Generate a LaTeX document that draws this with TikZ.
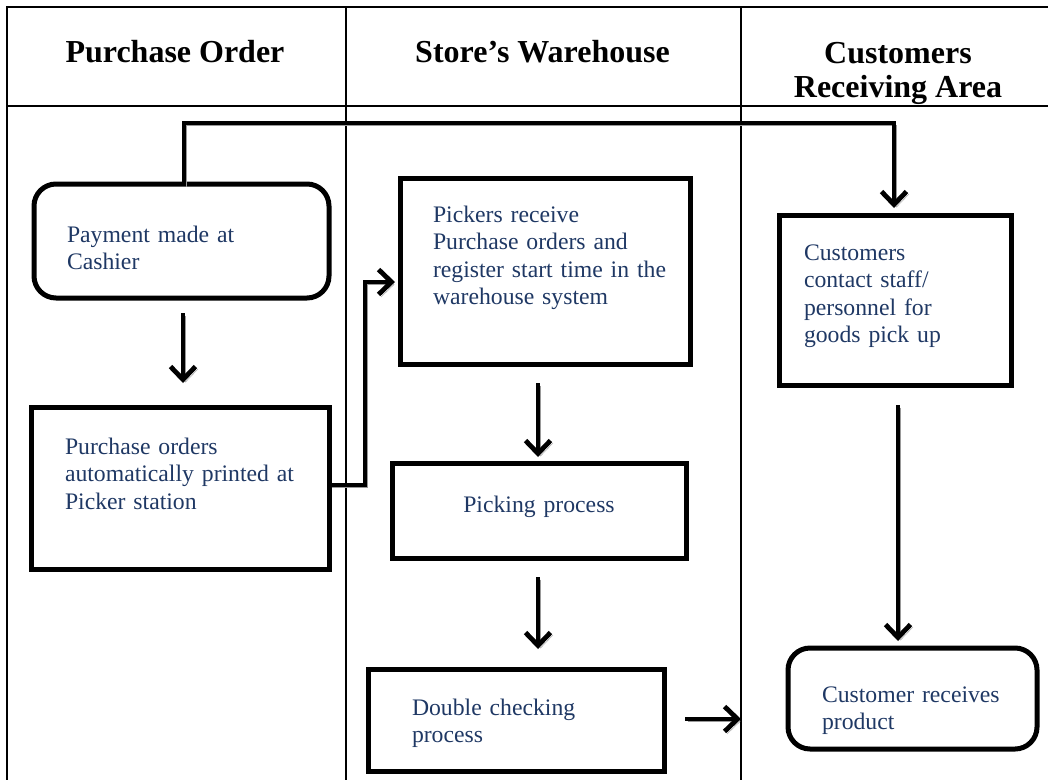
\documentclass[tikz,border=0pt]{standalone}
\usepackage{fontspec}
\setmainfont{Liberation Serif}
\usetikzlibrary{arrows.meta}
\definecolor{stepblue}{RGB}{31,56,100}

\tikzset{
	lane/.style={line width=1.8pt},
	head/.style={font=\bfseries\fontsize{32}{33.5}\selectfont, align=center, anchor=base},
	box/.style={draw, line width=5pt, text=stepblue, align=left, anchor=north west,
		font=\fontsize{23.7}{27.5}\selectfont, inner ysep=0pt, outer sep=0pt},
	flow/.style={line width=4.8pt, -{Straight Barb[length=13pt,width=25pt]},
		preaction={draw=black!40, transform canvas={shift={(2.5pt,-2.5pt)}}}}
}

\begin{document}
\begin{tikzpicture}[x=1pt,y=-1pt]
	\useasboundingbox (0,0) rectangle (1048,779);
	% swim lanes: frame, header rule and the two lane separators
	\draw[lane] (7,795) -- (7,7) -- (1052,7);
	\draw[lane] (7,106) -- (1052,106);
	\foreach \x in {346,741}
		\draw[lane] (\x,7) -- (\x,795);

	\node[head] (h1) at (175,62) {Purchase Order};
	\node[head] (h2) at (542.5,62) {Store’s Warehouse};
	\node[head] (h3) at (898,97) {Customers\\Receiving Area};

	% process steps (text height/depth put the first baseline where it belongs)
	\node[box, rounded corners=22pt, text width=229pt, inner xsep=33pt, text height=58pt, text depth=56pt]
		(pay) at (34,184) {Payment made at\\Cashier};
	\node[box, text width=230pt, inner xsep=34pt, text height=47pt, text depth=115pt]
		(po) at (31,407) {Purchase orders\\\mbox{automatically printed at}\\Picker station};
	\node[box, text width=224pt, inner xsep=33pt, text height=44pt, text depth=142pt]
		(pick) at (400,178) {Pickers receive\\Purchase orders and\\\mbox{register start time in the}\\warehouse system};
	\node[box, align=center, text width=254pt, inner xsep=20pt, text height=49pt, text depth=46pt]
		(picking) at (392,463) {Picking process};
	\node[box, text width=208pt, inner xsep=44pt, text height=46pt, text depth=56pt]
		(dbl) at (368,669) {Double checking\\process};
	\node[box, text width=182pt, inner xsep=25pt, text height=45pt, text depth=125pt]
		(contact) at (779,215) {Customers\\contact staff/\\personnel for\\goods pick up};
	\node[box, rounded corners=22pt, text width=181pt, inner xsep=34pt, text height=54pt, text depth=47pt]
		(recv) at (788,648) {\mbox{Customer receives}\\product};

	% connectors
	\coordinate (top) at (0,123);
	\draw[flow] ([xshift=2.5pt]pay.north) -- ([xshift=2.5pt]pay.north |- top) -| ([xshift=-1pt,yshift=7pt]contact.north);
	\draw[flow] ([xshift=1.5pt,yshift=-15pt]pay.south) -- ++(0,70);
	\draw[flow] ([yshift=3pt]po.east) -- ++(36,0) |- ([xshift=-5pt,yshift=-11pt]pick.west);
	\draw[flow] ([xshift=-7pt,yshift=-19pt]pick.south) -- ++(0,74);
	\draw[flow] ([xshift=-1pt,yshift=-19pt]picking.south) -- ++(0,72);
	\draw[flow] ([xshift=21pt,yshift=1pt]dbl.east) -- ++(56,0);
	\draw[flow] ([xshift=3pt,yshift=-20pt]contact.south) -- ++(0,236);
\end{tikzpicture}
\end{document}
